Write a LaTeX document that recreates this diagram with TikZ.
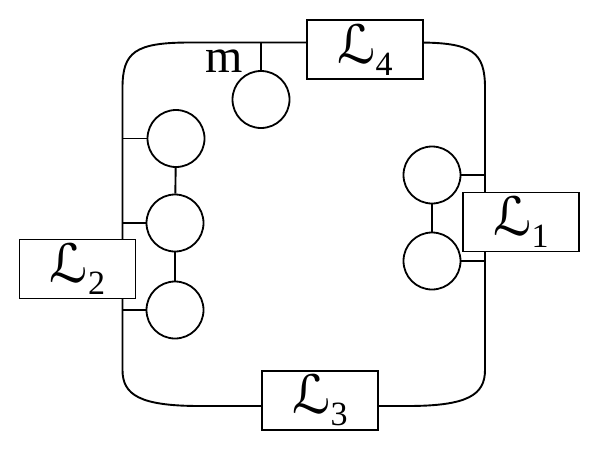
\documentclass[tikz,border=0pt]{standalone}
\usepackage{fontspec}
\setmainfont{Liberation Serif}
\newfontfamily\dv{DejaVu Sans}
\newcommand{\Lsym}[1]{{\fontsize{53}{53}\selectfont\dv ℒ}\raisebox{-12pt}{\fontsize{34}{34}\selectfont #1}}
\tikzset{
  wire/.style={line width=1.9pt},
  lbox/.style={draw, line width=1.8pt, fill=white, minimum width=116pt, minimum height=59pt, inner sep=0pt},
  blob/.style={draw, line width=1.8pt, fill=white, circle, minimum size=57pt, inner sep=0pt},
}
\begin{document}
\begin{tikzpicture}[x=1pt,y=-1pt]
\useasboundingbox (0,0) rectangle (597,464);
% loop corners
\coordinate (tl1) at (190,42.5);
\coordinate (tl2) at (122.5,88);
\coordinate (bl1) at (122.5,370);
\coordinate (bl2) at (200,406);
\coordinate (br1) at (407.5,406);
\coordinate (br2) at (485,370);
\coordinate (tr1) at (485,88);
\coordinate (tr2) at (417.5,42.5);
\draw[wire] (tl1) .. controls (135,42.5) and (122.5,52) .. (tl2) -- (bl1)
  .. controls (122.5,395) and (140,406) .. (bl2) -- (br1)
  .. controls (467.5,406) and (485,395) .. (br2) -- (tr1)
  .. controls (485,52) and (472.5,42.5) .. (tr2) -- cycle;
% boxes
\node[lbox] (L4) at (365,49.5) {\Lsym{4}\hspace{8pt}};
\node[lbox] (L1) at (521,222) {\Lsym{1}\hspace{6pt}};
\node[lbox] (L2) at (77.5,269) {\Lsym{2}};
\node[lbox] (L3) at (320,400.3) {\Lsym{3}};
% circles
\node[blob] (cM) at (261,99.5) {};
\node[blob] (cA) at (176,138.5) {};
\node[blob] (cB) at (175,223) {};
\node[blob] (cC) at (175,310) {};
\node[blob] (cD) at (432,175) {};
\node[blob] (cE) at (432,261) {};
\coordinate (top) at (0,42.5);
\coordinate (lft) at (122.5,0);
\coordinate (rgt) at (485,0);
% ticks
\draw[wire] (cM.north) -- (cM.north |- top);
\draw[wire] (cA.west) -- (cA.west -| lft);
\draw[wire] (cB.west) -- (cB.west -| lft);
\draw[wire] (cC.west) -- (cC.west -| lft);
\draw[wire] (cD.east) -- (cD.east -| rgt);
\draw[wire] (cE.east) -- (cE.east -| rgt);
\draw[wire] (cA) -- (cB);
\draw[wire] (cB) -- (cC);
\draw[wire] (cD) -- (cE);
\node[anchor=base, font=\fontsize{48}{48}\selectfont, inner sep=0pt] (m) at (224,72.7) {m};
\end{tikzpicture}
\end{document}
